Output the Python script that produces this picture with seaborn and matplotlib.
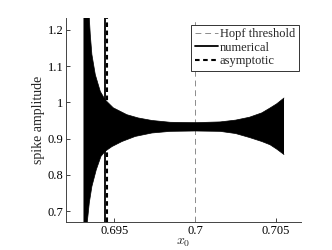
import numpy as np
import pandas as pd
import matplotlib
matplotlib.use("Agg")
import matplotlib.pyplot as plt
import seaborn as sns

# upper envelope of the numerical spike amplitude oscillation
x0_upper = [0.69310, 0.69333, 0.69346, 0.69352, 0.69362, 0.69383, 0.69414, 0.69444,
            0.69494, 0.69578, 0.69648, 0.69733, 0.69846, 0.70000, 0.70154, 0.70250,
            0.70336, 0.70412, 0.70463, 0.70504, 0.70549]
amp_upper = [1.50, 1.33, 1.233, 1.187, 1.132, 1.0765, 1.030, 1.007,
             0.985, 0.966, 0.957, 0.950, 0.945, 0.944, 0.946, 0.951,
             0.959, 0.971, 0.9845, 0.996, 1.012]
# lower envelope
x0_lower = [0.69310, 0.69321, 0.69335, 0.69346, 0.69362, 0.69389, 0.69418, 0.69444,
            0.69486, 0.69548, 0.69630, 0.69733, 0.69846, 0.70000, 0.70154, 0.70250,
            0.70336, 0.70412, 0.70463, 0.70504, 0.70549]
amp_lower = [0.55, 0.615, 0.676, 0.723, 0.768, 0.814, 0.851, 0.865,
             0.878, 0.892, 0.906, 0.9155, 0.920, 0.921, 0.920, 0.914,
             0.903, 0.892, 0.883, 0.871, 0.856]

hopf_threshold = 0.7
numerical_x = 0.69441
asymptotic_x = 0.69457

x_ticks = [0.695, 0.7, 0.705]
x_ticklabels = ["0.695", "0.7", "0.705"]
y_ticks = [0.7, 0.8, 0.9, 1.0, 1.1, 1.2]
y_ticklabels = ["0.7", "0.8", "0.9", "1", "1.1", "1.2"]

sns.set_theme(style="white")
plt.rcParams["font.family"] = ["Liberation Serif", "DejaVu Serif"]
plt.rcParams["mathtext.fontset"] = "cm"

fig = plt.figure(figsize=(3.32, 2.5), dpi=100)
ax = fig.add_axes([66 / 332, 1 - 222.3 / 250, (301 - 66) / 332, (222.3 - 18.3) / 250])

up = pd.DataFrame({"x0": x0_upper, "amp": amp_upper})
lo = pd.DataFrame({"x0": x0_lower, "amp": amp_lower})

ax.axvline(hopf_threshold, color="#8c8c8c", lw=0.7, ls=(0, (6, 4)), zorder=1,
           label="Hopf threshold")
ax.axvline(numerical_x, color="black", lw=1.3, ls="-", zorder=1, label="numerical")
ax.axvline(asymptotic_x, color="black", lw=1.5, ls=(0, (2.2, 1.7)), zorder=1,
           label="asymptotic")

poly_x = np.concatenate([up["x0"].values, lo["x0"].values[::-1]])
poly_y = np.concatenate([up["amp"].values, lo["amp"].values[::-1]])
ax.fill(poly_x, poly_y, color="black", lw=0, zorder=2)
sns.lineplot(data=up, x="x0", y="amp", color="black", lw=0.5, ax=ax, zorder=2,
             legend=False)
sns.lineplot(data=lo, x="x0", y="amp", color="black", lw=0.5, ax=ax, zorder=2,
             legend=False)

ax.set_xlim(0.69202, 0.70654)
ax.set_ylim(0.669, 1.232)
ax.set_xticks(x_ticks)
ax.set_xticklabels(x_ticklabels)
ax.set_yticks(y_ticks)
ax.set_yticklabels(y_ticklabels)
ax.tick_params(direction="in", length=3, width=0.6, labelsize=9, pad=2,
               bottom=True, left=True, colors="#222222", labelcolor="black")
for s in ["top", "right"]:
    ax.spines[s].set_visible(False)
for s in ["left", "bottom"]:
    ax.spines[s].set_color("#444444")
    ax.spines[s].set_linewidth(0.7)

ax.set_xlabel("$x_0$", fontsize=10, labelpad=-1)
ax.set_ylabel("spike amplitude", fontsize=10, labelpad=1.5)

handles, labels = ax.get_legend_handles_labels()
leg = ax.legend(handles[:3], labels[:3], loc="upper right",
                bbox_to_anchor=(298.7 / 332, 1 - 24.7 / 250),
                bbox_transform=fig.transFigure, fontsize=9,
                frameon=True, fancybox=False, handlelength=1.9, handletextpad=0.12,
                borderpad=0.28, labelspacing=0.12, borderaxespad=0.0)
leg.get_frame().set_edgecolor("#333333")
leg.get_frame().set_linewidth(0.7)
leg.get_frame().set_alpha(1)

fig.savefig("out.png", dpi=100)
